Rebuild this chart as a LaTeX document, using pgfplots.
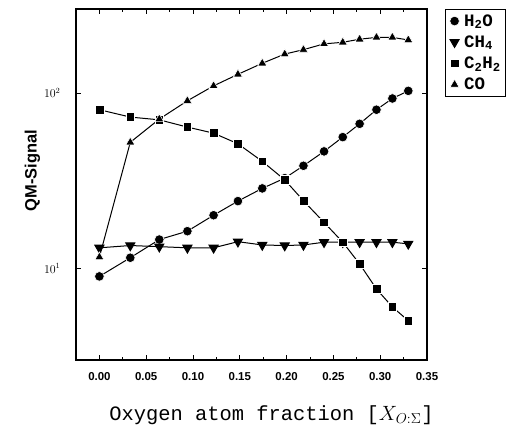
\documentclass[border=0pt]{standalone}
\usepackage{pgfplots}
\pgfplotsset{compat=1.18}
\usepackage{fontspec}
\usetikzlibrary{calc}
\newfontfamily\monof{Liberation Mono}
\newfontfamily\sansf{Liberation Sans}
\newcommand\legf{\monof\bfseries\fontsize{17.5}{20}\selectfont}
\begin{document}
\begin{tikzpicture}
\begin{axis}[name=ax,
  width=351bp, height=351bp, scale only axis,
  ymode=log, log basis y=10,
  xmin=-0.025, xmax=0.35, ymin=3, ymax=302,
  xtick={0,0.05,...,0.35}, minor x tick num=1,
  ytick={10,100}, yticklabels={$10^1$,$10^2$},
  tick align=inside, major tick length=5bp, minor tick length=3bp,
  axis line style={line width=1.3bp}, every tick/.style={black, line width=0.8bp},
  xticklabel style={font=\sansf\bfseries\fontsize{11.5}{13}\selectfont, yshift=-9bp, /pgf/number format/assume math mode=true,
     /pgf/number format/.cd, fixed, fixed zerofill, precision=2},
  yticklabel style={font=\fontsize{12}{14}\selectfont, xshift=-12bp},
  xlabel={\monof\fontsize{20.5}{24}\selectfont Oxygen atom fraction [$X_{O:\Sigma}$]},
  ylabel={\sansf\bfseries\fontsize{16.5}{18}\selectfont QM-Signal},
  xlabel style={yshift=-18bp, xshift=20bp},
  ylabel style={yshift=-3bp, xshift=14bp},
  legend style={at={(1.051,1)}, anchor=north west, draw=black, line width=1bp,
     row sep=4bp, inner xsep=3bp, inner ysep=3bp},
  legend cell align=left,
  legend image code/.code={\path (0cm,0cm) (0.45cm,0cm); \draw[#1, only marks] plot coordinates {(0.2cm,0cm)};},
  every axis plot/.append style={black, line width=1bp, mark options={solid, fill=black, draw=white, line width=0.6bp}},
]
\addplot[mark=*, mark size=4.8bp] coordinates {
(0,9.0) (0.033,11.5) (0.064,14.6) (0.094,16.3) (0.122,20.1) (0.148,24.2) (0.174,28.6)
(0.198,32.7) (0.218,38.5) (0.240,46.5) (0.260,56.1) (0.278,66.8) (0.296,80.4) (0.313,93.2) (0.330,103)};
\addlegendentry{\legf H\textsubscript{2}O}
\addplot[mark=triangle*, mark size=5.2bp, mark options={rotate=180}] coordinates {
(0,13.1) (0.033,13.5) (0.064,13.3) (0.094,13.1) (0.122,13.1) (0.148,14.2) (0.174,13.6)
(0.198,13.5) (0.218,13.6) (0.240,14.1) (0.260,14.1) (0.278,14.1) (0.296,14.1) (0.313,14.1) (0.330,13.8)};
\addlegendentry{\legf CH\textsubscript{4}}
\addplot[mark=square*, mark size=4.4bp] coordinates {
(0,80.4) (0.033,73.0) (0.064,70.4) (0.094,64.0) (0.122,59.1) (0.148,51.4) (0.174,40.8)
(0.198,32.0) (0.218,24.3) (0.240,18.3) (0.260,14.1) (0.278,10.6) (0.296,7.63) (0.313,6.02) (0.330,5.03)};
\addlegendentry{\legf C\textsubscript{2}H\textsubscript{2}}
\addplot[mark=triangle*, mark size=5.2bp] coordinates {
(0,11.6) (0.033,52.4) (0.064,71.1) (0.094,90.4) (0.122,110) (0.148,128) (0.174,148)
(0.198,167) (0.218,177) (0.240,191) (0.260,195) (0.278,203) (0.296,208) (0.313,208) (0.330,201)};
\addlegendentry{\legf CO}
\end{axis}
\path ($(ax.south west)+(-76bp,-71bp)$) rectangle ($(ax.north east)+(95bp,9bp)$);
\end{tikzpicture}
\end{document}
